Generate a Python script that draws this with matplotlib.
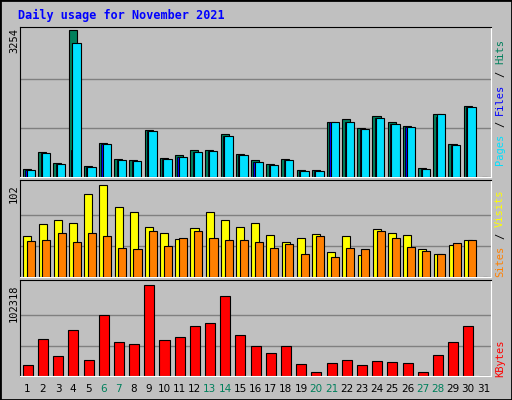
import matplotlib
matplotlib.use("Agg")
import matplotlib.pyplot as plt
import numpy as np

days = list(range(1, 32))
hits  = [184,559,316,3254,250,758,405,383,1045,427,493,604,604,957,515,383,294,405,162,162,1222,1288,1089,1354,1222,1134,206,1398,736,1575,0]
files = [162,537,294,2966,228,736,383,361,1023,405,449,559,581,913,493,339,272,383,140,140,1222,1222,1067,1310,1178,1111,184,1398,714,1553,0]
pages = [162,537,294,589,228,736,383,361,1023,405,449,559,581,913,493,339,272,383,140,140,1222,1222,1067,1310,1178,1111,184,1332,714,1553,0]
visits = [45.7,58.9,63.3,60,92,102,77.7,72.2,55.6,49,42.3,54.5,72.2,63.3,55.6,60,46.8,39,43.5,47.9,28,45.7,24.7,53.4,49,46.8,31.3,25.8,35.7,41.2,0]
sites  = [40.1,41.2,49,39,49,45.7,32.4,31.3,51.2,34.6,43.5,51.2,43.5,41.2,41.2,39,32.4,36.8,25.8,45.7,22.5,32.4,31.3,51.2,43.5,33.5,29.1,25.8,37.9,41.2,0]
kbytes = [12696,41823,22779,51905,18298,68710,38462,36222,102318,40703,44064,56386,59747,89994,46304,33981,26140,33981,13817,4855,14937,18298,12696,17177,16057,14937,4855,23899,38462,56386,0]
weekend = [6,7,13,14,20,21,27,28]
title = "Daily usage for November 2021"

W, H = 512, 400
fig = plt.figure(figsize=(W/100, H/100), dpi=100, facecolor="#C0C0C0")
mono = "DejaVu Sans Mono"
x = np.array(days)

def mkax(top, bot):
    ax = fig.add_axes([20/W, 1-bot/H, 471/W, (bot-top)/H], facecolor="#C0C0C0")
    ax.set_xlim(0.5, 31.5)
    ax.set_xticks([]); ax.set_yticks([])
    for s in ["left", "top"]:
        ax.spines[s].set_color("black")
    for s in ["right", "bottom"]:
        ax.spines[s].set_color("white")
    return ax

ec = dict(edgecolor="black", linewidth=0.8, align="edge")
ax1 = mkax(27, 177)
ax1.set_ylim(0, 3311)
for g in [1085, 2169]:
    ax1.axhline(g, color="#808080", lw=1, zorder=0)
ax1.bar(x-0.30, hits, 0.53, color="#00805C", **ec, zorder=2)
ax1.bar(x-0.14, pages, 0.5, color="#0000FF", edgecolor="black", linewidth=0.6, align="edge", zorder=3)
ax1.bar(x-0.06, files, 0.55, color="#00E0FF", **ec, zorder=4)

ax2 = mkax(180, 277)
ax2.set_ylim(0, 102*97/92.4)
for g in [34, 68]:
    ax2.axhline(g, color="#808080", lw=1, zorder=0)
ax2.bar(x-0.28, visits, 0.53, color="#FFFF00", **ec, zorder=2)
ax2.bar(x-0.03, sites, 0.53, color="#FF8000", **ec, zorder=3)

ax3 = mkax(280, 376)
ax3.set_ylim(0, 102318*96/91.4)
for g in [34106, 68212]:
    ax3.axhline(g, color="#808080", lw=1, zorder=0)
ax3.bar(x-0.32, kbytes, 0.66, color="#FF0000", **ec, zorder=2)

fig.patches.append(plt.Rectangle((0, 0), 1, 1, transform=fig.transFigure, fill=False, edgecolor="black", lw=2))
fig.text(18/W, 1-15/H, title, color="#0000FF", fontsize=8.5, fontweight="bold", family=mono, va="center")

for val, top in [("3254", 28), ("102", 184), ("102318", 284)]:
    fig.text(14/W, 1-top/H, val, rotation=90, fontsize=7.5, family=mono, ha="center", va="top")

for d in days:
    fig.text((20 + (d-0.5)*471/31)/W, 1-389/H, str(d), fontsize=7.5, ha="center", va="center",
             color="#00805C" if d in weekend else "black", family="DejaVu Sans")

CH = 6.3
def vlabel(parts, bottom_px):
    y = bottom_px
    for txt, col in parts:
        n = len(txt)
        s = txt.strip()
        if s:
            lead = len(txt) - len(txt.lstrip())
            fig.text(500/W, 1-(y - lead*CH)/H, s, rotation=90, color=col, fontsize=7.5,
                     family=mono, ha="center", va="bottom")
        y -= n * CH
vlabel([("Pages", "#00E0FF"), (" / ", "black"), ("Files", "#0000FF"), (" / ", "black"), ("Hits", "#00805C")], 165)
vlabel([("Sites", "#FF8000"), (" / ", "black"), ("Visits", "#FFFF00")], 277)
vlabel([("KBytes", "#FF0000")], 377)

fig.savefig("out.png", dpi=100, facecolor=fig.get_facecolor())
